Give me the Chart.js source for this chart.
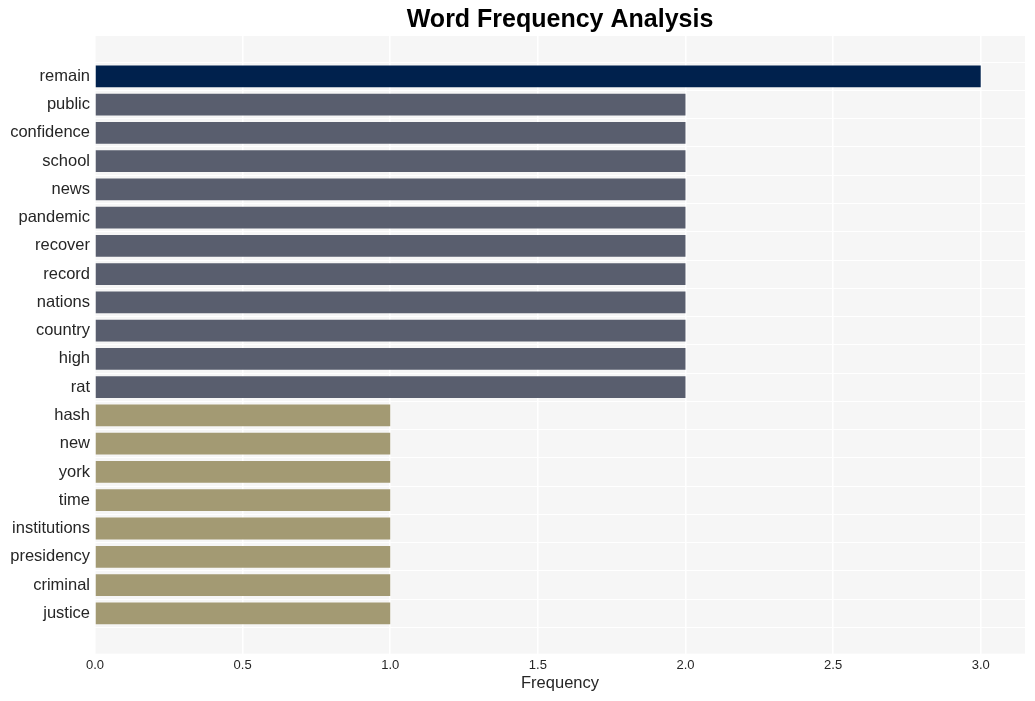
<!DOCTYPE html>
<html>
<head>
<meta charset="utf-8">
<script src="https://cdn.jsdelivr.net/npm/chart.js@4"></script>
<style>
  body { margin: 0; background: #fff; }
</style>
</head>
<body>
<canvas id="grafico" width="1035" height="701"></canvas>
<script>
// datos del grafico
const palabras = ['remain', 'public', 'confidence', 'school', 'news', 'pandemic', 'recover', 'record',
    'nations', 'country', 'high', 'rat', 'hash', 'new', 'york', 'time', 'institutions',
    'presidency', 'criminal', 'justice'];
const frecuencias = [3, 2, 2, 2, 2, 2, 2, 2, 2, 2, 2, 2, 1, 1, 1, 1, 1, 1, 1, 1];
const ticksX = [0, 0.5, 1, 1.5, 2, 2.5, 3];

const colorBarra = (v) => v >= 3 ? 'rgb(0, 33, 77)' : (v >= 2 ? 'rgb(89, 94, 110)' : 'rgb(163, 154, 115)');

// fondo gris del area y titulo centrado sobre el area
const fondoPlugin = {
    id: 'fondo',
    beforeDraw(chart) {
        const { ctx, chartArea: a } = chart;
        ctx.save();
        ctx.fillStyle = 'rgb(246, 246, 246)';
        ctx.fillRect(a.left, a.top, a.right - a.left, a.bottom - a.top);
        ctx.restore();
    },
    afterDraw(chart) {
        const { ctx, chartArea: a } = chart;
        ctx.save();
        ctx.fillStyle = '#000';
        ctx.font = 'bold 25px "Liberation Sans", Arial, sans-serif';
        ctx.textAlign = 'center';
        ctx.textBaseline = 'middle';
        ctx.fillText('Word Frequency Analysis', (a.left + a.right) / 2, 20);
        ctx.restore();
    }
};

const ctx = document.getElementById('grafico').getContext('2d');
new Chart(ctx, {
    type: 'bar',
    data: {
        datasets: [{
            data: frecuencias.map((v, i) => ({ x: v, y: i })),
            backgroundColor: frecuencias.map(colorBarra),
            barPercentage: 0.77,
            categoryPercentage: 1
        }]
    },
    options: {
        responsive: false,
        animation: false,
        indexAxis: 'y',
        layout: { padding: { top: 36, right: 10, bottom: 4, left: 0 } },
        plugins: {
            legend: { display: false },
            tooltip: { enabled: false }
        },
        scales: {
            x: {
                type: 'linear',
                min: 0,
                max: 3.15,
                afterBuildTicks: (s) => { s.ticks = ticksX.map(v => ({ value: v })); },
                grid: { color: '#ffffff', lineWidth: 1.5, drawTicks: false },
                border: { display: false },
                ticks: {
                    padding: 4,
                    color: '#262626',
                    font: { family: '"Liberation Sans", Arial, sans-serif', size: 13 },
                    callback: (v) => v.toFixed(1)
                },
                title: {
                    display: true,
                    text: 'Frequency',
                    color: '#262626',
                    font: { family: '"Liberation Sans", Arial, sans-serif', size: 16.5 },
                    padding: { top: -4, bottom: 4 }
                }
            },
            y: {
                type: 'linear',
                reverse: true,
                min: -0.88,
                max: palabras.length - 0.12,
                afterBuildTicks: (s) => { s.ticks = palabras.map((p, i) => ({ value: i })); },
                afterFit: (s) => { s.width = 95; },
                grid: { color: '#ffffff', lineWidth: 1, drawTicks: false },
                border: { display: false },
                ticks: {
                    padding: 5,
                    color: '#262626',
                    font: { family: '"Liberation Sans", Arial, sans-serif', size: 16.5 },
                    callback: (v) => palabras[v]
                }
            }
        }
    },
    plugins: [fondoPlugin]
});
</script>
</body>
</html>
